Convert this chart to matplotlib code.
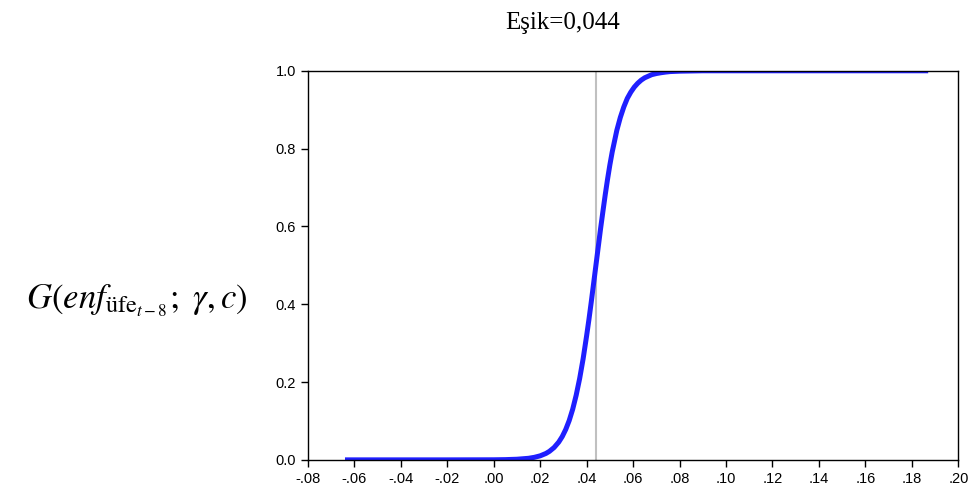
import matplotlib.pyplot as plt

# Transition function values
threshold = 0.044
x_vals = [-0.064, -0.04, -0.02, 0.0, 0.005, 0.01, 0.015, 0.0175, 0.02, 0.0225,
          0.024, 0.026, 0.028, 0.0295, 0.031, 0.0325, 0.034, 0.0355, 0.037, 0.0385,
          0.040, 0.041, 0.042, 0.043, 0.044, 0.045, 0.046, 0.047, 0.048, 0.049,
          0.050, 0.051, 0.053, 0.0545, 0.056, 0.0575, 0.059, 0.0605, 0.062, 0.0635,
          0.065, 0.0665, 0.068, 0.070, 0.072, 0.074, 0.076, 0.080, 0.090, 0.120,
          0.187]
g_vals = [0.0, 0.0, 0.0, 0.0002, 0.0006, 0.0016, 0.004, 0.0065, 0.0103, 0.0165,
          0.0219, 0.0317, 0.0457, 0.0598, 0.078, 0.101, 0.130, 0.166, 0.209, 0.260,
          0.319, 0.361, 0.406, 0.453, 0.5, 0.547, 0.594, 0.638, 0.681, 0.721,
          0.758, 0.791, 0.847, 0.880, 0.907, 0.929, 0.945, 0.958, 0.968, 0.976,
          0.982, 0.986, 0.990, 0.9929, 0.995, 0.9967, 0.998, 0.999, 1.0, 1.0,
          1.0]
x_ticks = [-0.08, -0.06, -0.04, -0.02, 0.0, 0.02, 0.04, 0.06, 0.08, 0.10,
           0.12, 0.14, 0.16, 0.18, 0.20]
x_tick_labels = ['-.08', '-.06', '-.04', '-.02', '.00', '.02', '.04', '.06', '.08',
                 '.10', '.12', '.14', '.16', '.18', '.20']
y_ticks = [0.0, 0.2, 0.4, 0.6, 0.8, 1.0]

plt.rcParams['font.family'] = ['Liberation Sans', 'DejaVu Sans']
plt.rcParams['mathtext.fontset'] = 'stix'

fig = plt.figure(figsize=(9.71, 4.95), dpi=100)
ax = fig.add_axes([0.317, 0.071, 0.670, 0.786])

ax.axvline(threshold, color='#c0c0c0', lw=1.5, zorder=1)
ax.plot(x_vals, g_vals, color='#1f1fff', lw=3.6, solid_capstyle='butt', zorder=2)

ax.set_xlim(-0.08, 0.20)
ax.set_ylim(0.0, 1.0)
ax.set_xticks(x_ticks)
ax.set_xticklabels(x_tick_labels)
ax.set_yticks(y_ticks)
ax.set_yticklabels(['0.0', '0.2', '0.4', '0.6', '0.8', '1.0'])
ax.tick_params(direction='out', length=5, width=1, labelsize=10.5, colors='black')

for s in ax.spines.values():
    s.set_linewidth(1)
    s.set_color('black')

fig.text(0.579, 0.953, 'Eşik=0,044', family='Liberation Serif', fontsize=18,
         ha='center', va='center')
fig.text(0.141, 0.392, r'$G\left(enf_{\mathrm{üfe}_{t-8}};\ \gamma, c\right)$',
         fontsize=25, ha='center', va='center')

fig.savefig('out.png', dpi=100)
